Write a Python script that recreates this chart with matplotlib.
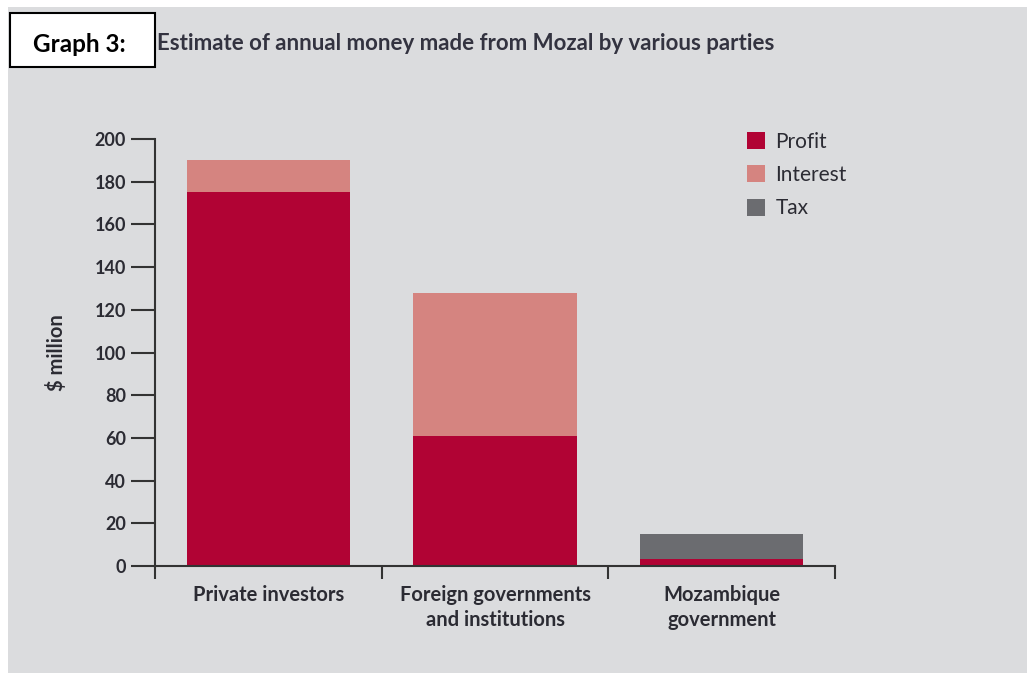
import matplotlib
matplotlib.use("Agg")
import matplotlib.pyplot as plt
from matplotlib.patches import Rectangle
import numpy as np

# data
categories = ["Private investors", "Foreign governments\nand institutions", "Mozambique\ngovernment"]
profit = [175, 61, 3.5]
interest = [15, 67, 0]
tax = [0, 0, 11.5]
y_ticks = [0, 20, 40, 60, 80, 100, 120, 140, 160, 180, 200]

colProfit = "#B10334"
colInterest = "#D58480"
colTax = "#6B6C70"
bg = "#DBDCDE"
txt = "#2B2B33"

plt.rcParams['font.family'] = ['Lato', 'DejaVu Sans']

fig = plt.figure(figsize=(10.27, 6.73), dpi=100)
fig.patch.set_facecolor("white")
fig.patches.append(Rectangle((8 / 1027, 0), 1, (673 - 7) / 673, transform=fig.transFigure,
                             facecolor=bg, edgecolor="none", zorder=-5))

ax = fig.add_axes([155 / 1027, 1 - 566 / 673, (835 - 155) / 1027, (566 - 139) / 673])
ax.set_facecolor("none")
ax.set_zorder(1)

x = np.arange(len(categories))
w = 0.72
profit = np.array(profit)
interest = np.array(interest)
tax = np.array(tax)

ax.bar(x, profit, w, color=colProfit, label="Profit", linewidth=0)
ax.bar(x, interest, w, bottom=profit, color=colInterest, label="Interest", linewidth=0)
ax.bar(x, tax, w, bottom=profit + interest, color=colTax, label="Tax", linewidth=0)

ax.set_xlim(-0.5, 2.5)
ax.set_ylim(0, 200)
ax.set_yticks(y_ticks)
ax.set_yticklabels([str(t) for t in y_ticks], fontsize=13, fontweight="bold", color=txt)

ax.set_xticks(x)
ax.set_xticklabels(categories, fontsize=14.5, fontweight="bold", color=txt, linespacing=1.32)
ax.set_xticks([-0.5, 0.5, 1.5, 2.5], minor=True)
ax.tick_params(axis="x", which="major", length=0, pad=13.5)
ax.tick_params(axis="x", which="minor", length=9, width=1.5, color="#333333", direction="out")
ax.tick_params(axis="y", length=17, width=1.5, color="#333333", direction="out", pad=4)

for s in ["top", "right"]:
    ax.spines[s].set_visible(False)
for s in ["left", "bottom"]:
    ax.spines[s].set_linewidth(1.5)
    ax.spines[s].set_color("#333333")

ax.set_ylabel("$ million", fontsize=14.5, fontweight="bold", color=txt, labelpad=20)

leg = ax.legend(loc="upper left", bbox_to_anchor=(0.8435, 1.061), frameon=False,
                fontsize=15, handlelength=0.87, handleheight=0.87, handletextpad=0.48,
                labelspacing=0.64, labelcolor=txt)

fig.text(157 / 1027, 1 - 44 / 673, "Estimate of annual money made from Mozal by various parties",
         fontsize=16, fontweight="bold", color="#333340", va="center", ha="left")

fig.patches.append(Rectangle((10 / 1027, 1 - 67 / 673), 145 / 1027, 54 / 673, transform=fig.transFigure,
                             facecolor="white", edgecolor="black", linewidth=1.5, zorder=2))
fig.text(79 / 1027, 1 - 44 / 673, "Graph 3:", fontsize=17.5, fontweight="bold", color="black",
         va="center", ha="center", zorder=3)

fig.savefig("out.png", dpi=100, facecolor=fig.get_facecolor())
